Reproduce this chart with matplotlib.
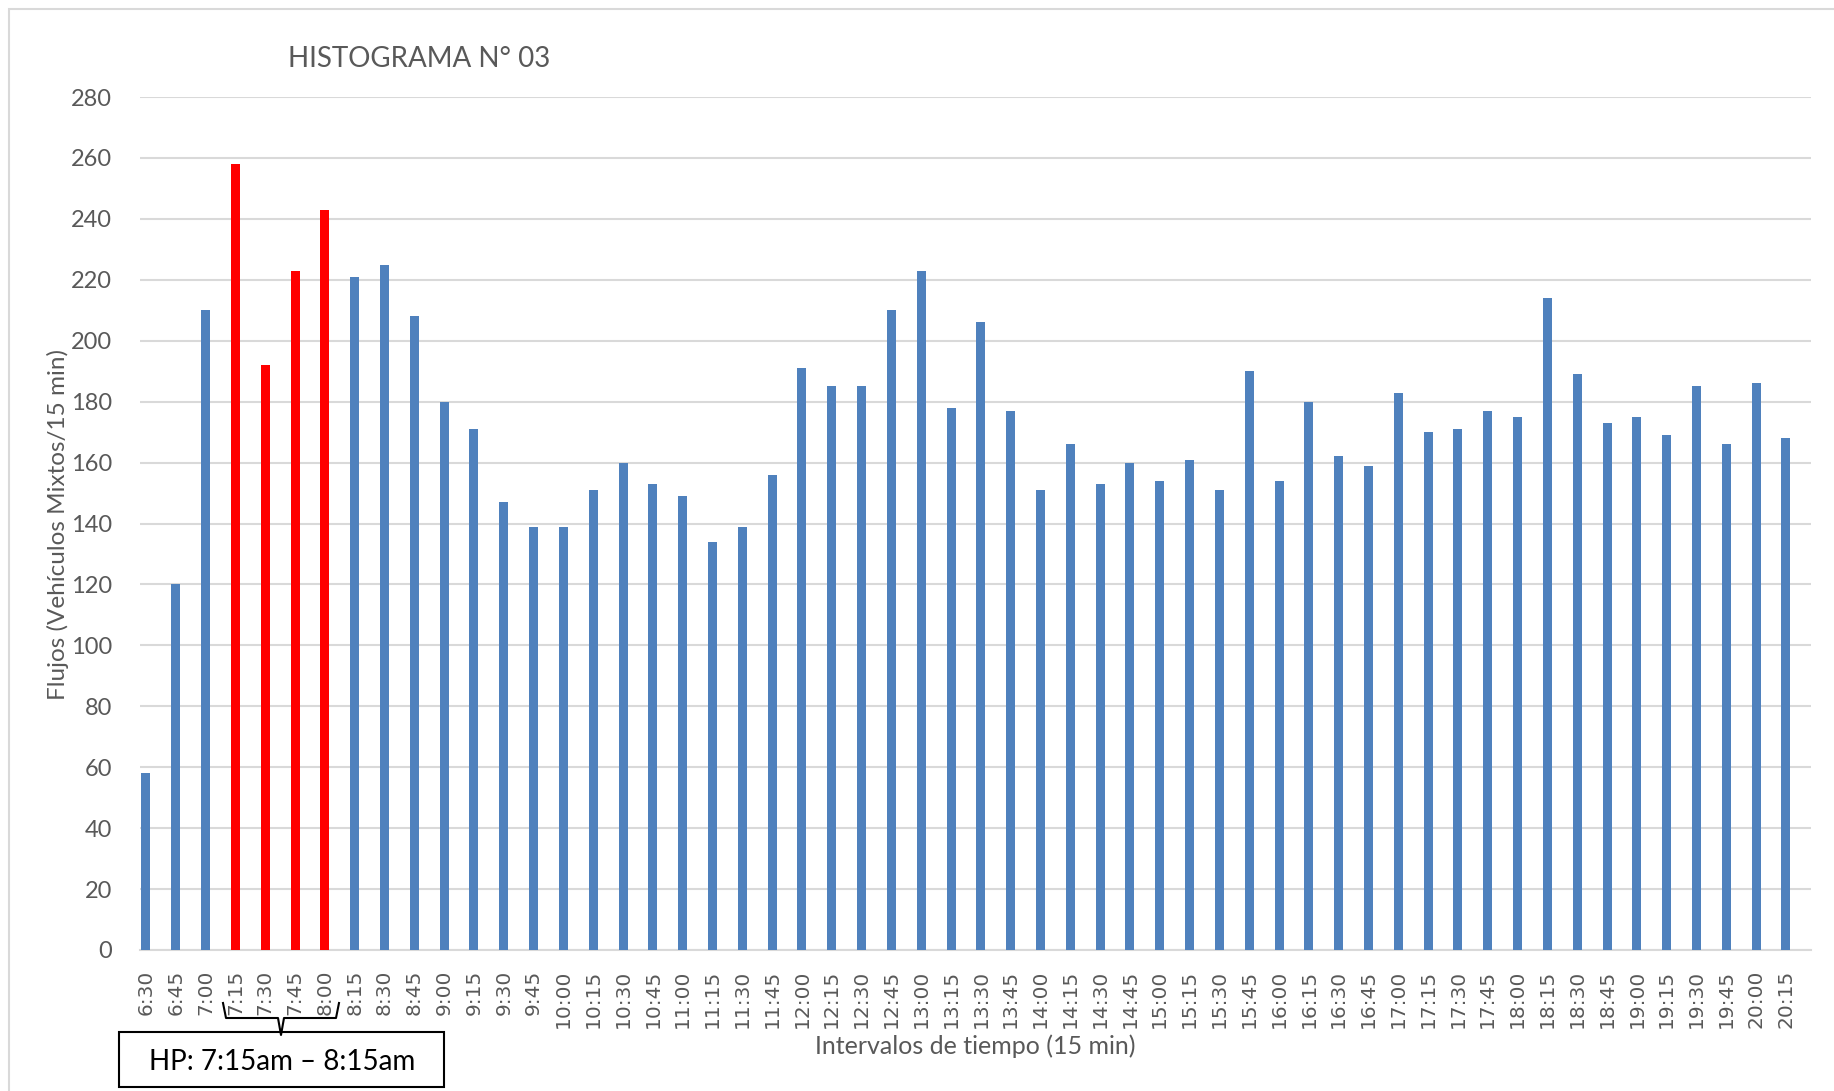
import matplotlib
matplotlib.use('Agg')
import matplotlib.pyplot as plt
from matplotlib.patches import Rectangle
import numpy as np

intervalos = ['6:30', '6:45', '7:00', '7:15', '7:30', '7:45', '8:00', '8:15', '8:30', '8:45',
              '9:00', '9:15', '9:30', '9:45', '10:00', '10:15', '10:30', '10:45', '11:00', '11:15',
              '11:30', '11:45', '12:00', '12:15', '12:30', '12:45', '13:00', '13:15', '13:30', '13:45',
              '14:00', '14:15', '14:30', '14:45', '15:00', '15:15', '15:30', '15:45', '16:00', '16:15',
              '16:30', '16:45', '17:00', '17:15', '17:30', '17:45', '18:00', '18:15', '18:30', '18:45',
              '19:00', '19:15', '19:30', '19:45', '20:00', '20:15']
flujos = [58, 120, 210, 258, 192, 223, 243, 221, 225, 208,
          180, 171, 147, 139, 139, 151, 160, 153, 149, 134,
          139, 156, 191, 185, 185, 210, 223, 178, 206, 177,
          151, 166, 153, 160, 154, 161, 151, 190, 154, 180,
          162, 159, 183, 170, 171, 177, 175, 214, 189, 173,
          175, 169, 185, 166, 186, 168]
hora_punta = ['7:15', '7:30', '7:45', '8:00']

W, H = 1834, 1091
fig = plt.figure(figsize=(W / 100, H / 100), dpi=100)
ax = fig.add_axes([140 / W, 1 - 950 / H, (1811 - 140) / W, (950 - 97) / H])

narrow = ['Lato', 'DejaVu Sans']
gris = '#595959'

x = np.arange(len(intervalos))
colores = ['#FF0000' if t in hora_punta else '#4F81BD' for t in intervalos]
ax.bar(x, flujos, width=0.3, color=colores, zorder=3)

ax.set_xlim(-0.2, len(intervalos) - 1 + 0.84)
ax.set_ylim(0, 280)
ax.set_yticks(np.arange(0, 281, 20))
ax.set_xticks(x)
ax.set_xticklabels(intervalos, rotation=90, fontsize=14.5, color=gris, family='DejaVu Sans')
for lab in ax.get_yticklabels():
    lab.set_family(narrow)
    lab.set_fontsize(17)
    lab.set_color(gris)
ax.tick_params(axis='both', length=0)
ax.tick_params(axis='y', pad=20)
ax.tick_params(axis='x', pad=14)

ax.grid(axis='y', color='#D9D9D9', linewidth=1.5, zorder=0)
for s in ['top', 'right', 'left']:
    ax.spines[s].set_visible(False)
ax.spines['bottom'].set_color('#D9D9D9')
ax.spines['bottom'].set_linewidth(1.5)

fig.text(419 / W, 1 - 59 / H, 'HISTOGRAMA N° 03', ha='center', va='center',
         fontsize=20, color=gris, family=narrow)
fig.text(58 / W, 1 - 524 / H, 'Flujos (Vehículos Mixtos/15 min)', rotation=90,
         ha='center', va='center', fontsize=17.5, color=gris, family=narrow)
fig.text(975 / W, 1 - 1046 / H, 'Intervalos de tiempo (15 min)', ha='center', va='center',
         fontsize=18, color=gris, family=narrow)

# borde del area del grafico
fig.patches.append(Rectangle((9 / W, -0.01), 1.0, 1 - 9 / H + 0.01, transform=fig.transFigure,
                             fill=False, edgecolor='#D9D9D9', linewidth=1.5))

# llave y recuadro de hora punta
def px(xp, yp):
    return xp / W, 1 - yp / H

bx = [223, 226, 278, 281, 284, 336, 339]
by = [1003, 1018, 1018, 1035, 1018, 1018, 1003]
fig.lines.append(plt.Line2D([b / W for b in bx], [1 - b / H for b in by],
                            transform=fig.transFigure, color='black', linewidth=1.5))
fig.patches.append(Rectangle(px(119, 1087), 325 / W, 55 / H, transform=fig.transFigure,
                             fill=False, edgecolor='black', linewidth=1.5))
fig.text(282 / W, 1 - 1062 / H, 'HP: 7:15am – 8:15am', ha='center', va='center',
         fontsize=20, color='black', family=narrow)

fig.savefig('out.png', dpi=100)
